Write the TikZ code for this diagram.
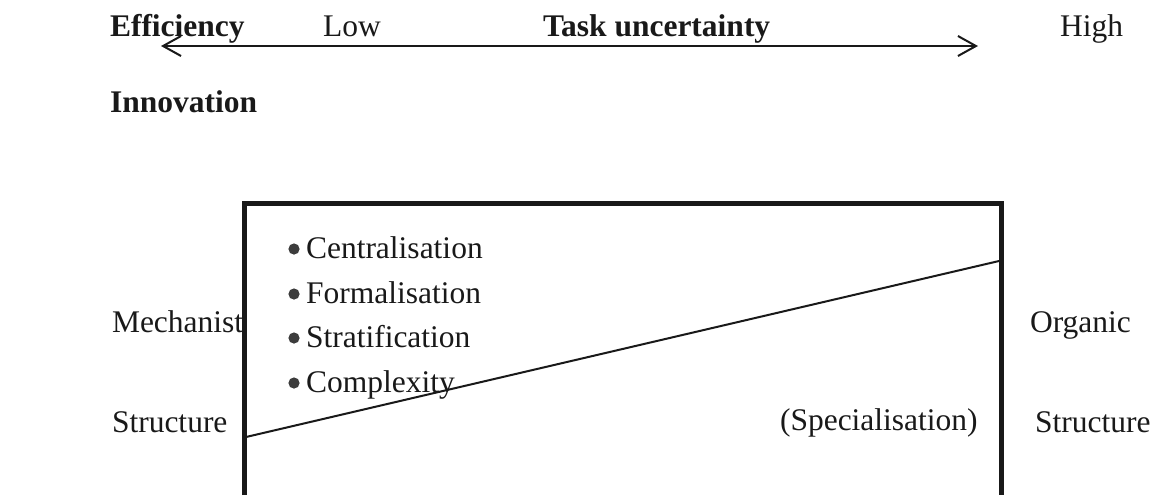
\documentclass[tikz,border=0pt]{standalone}
\usepackage{fontspec}
\setmainfont{Liberation Serif}
\usetikzlibrary{arrows.meta}
\definecolor{ink}{gray}{0.1}
\begin{document}
\begin{tikzpicture}[x=0.5pt,y=-0.5pt,
  lbl/.style={anchor=base west, inner sep=0pt, outer sep=0pt, text=ink,
              font=\fontsize{15.75pt}{18pt}\selectfont},
  boldlbl/.style={lbl, font=\fontsize{15.75pt}{18pt}\selectfont\bfseries},
  dot/.style={circle, fill=ink!85, inner sep=0pt, minimum size=5.6pt},
  frame/.style={draw=ink, line width=2.5pt, line join=miter},
  slope/.style={draw=ink, line width=1pt},
  barb/.style={draw=ink, line width=1pt,
               {Straight Barb[length=9pt,width=10pt]}-{Straight Barb[length=9pt,width=10pt]}}]
\useasboundingbox (0,0) rectangle (1156,495);

% top axis: task uncertainty from low to high
\node[boldlbl] (eff)  at (110,36) {Efficiency};
\node[lbl]     (low)  at (323,36) {Low};
\node[boldlbl] (task) at (543,36) {Task uncertainty};
\node[lbl]     (high) at (1060,36) {High};
\coordinate (axL) at (161,46);
\coordinate (axR) at (978,46);
\draw[barb] (axL) -- (axR);

\node[boldlbl] (innov) at (110,112) {Innovation};

% open-bottomed frame
\coordinate (fBL) at (244,495);
\coordinate (fTL) at (244,203);
\coordinate (fTR) at (1001,203);
\coordinate (fBR) at (1001,495);
\draw[frame] (fBL) -- (fTL) -- (fTR) -- (fBR);

% dividing line across the frame
\coordinate (sL) at (246,437);
\coordinate (sR) at (999,261);
\draw[slope] (sL) -- (sR);

% structural dimensions
\node[dot] (d1) at (294,249) {};
\node[lbl] (c1) at (306,258) {Centralisation};
\node[dot] (d2) at (294,294) {};
\node[lbl] (c2) at (306,303) {Formalisation};
\node[dot] (d3) at (294,338) {};
\node[lbl] (c3) at (306,347) {Stratification};
\node[dot] (d4) at (294,383) {};
\node[lbl] (c4) at (306,392) {Complexity};

\node[lbl] (spec) at (780,430) {(Specialisation)};

% side labels
\node[lbl] (mech)  at (112,332) {Mechanist};
\node[lbl] (strL)  at (112,432) {Structure};
\node[lbl] (org)   at (1030,332) {Organic};
\node[lbl] (strR)  at (1035,432) {Structure};
\end{tikzpicture}
\end{document}
